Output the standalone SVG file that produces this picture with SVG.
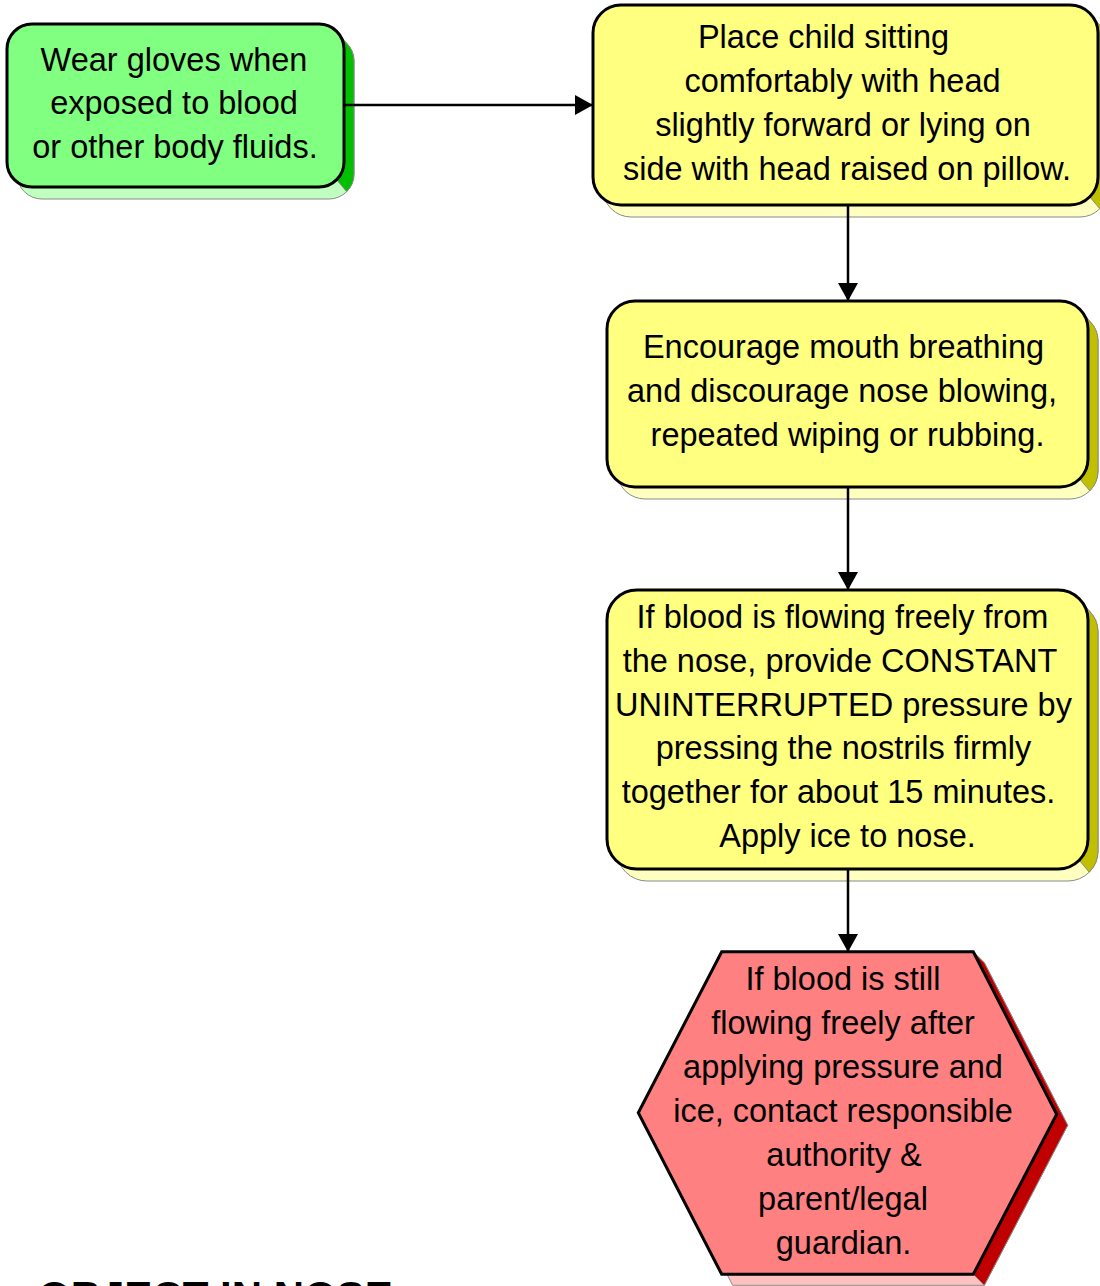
<svg xmlns="http://www.w3.org/2000/svg" width="1100" height="1286" viewBox="0 0 1100 1286">
  <style>
    .label { font-family: "Liberation Sans", Arial, sans-serif; font-size: 32.5px; fill: #000; text-anchor: middle; }
    .title { font-family: "Liberation Sans", Arial, sans-serif; font-size: 42px; font-weight: bold; fill: #000; }
    .face { stroke: #8a8a8a; stroke-width: 1; }
    .body { stroke: #000; stroke-width: 3; }
    .green .body { fill: #80ff80; }
    .green .bottom { fill: #c0ffc0; }
    .green .side { fill: #00c000; }
    .yellow .body { fill: #ffff80; }
    .yellow .bottom { fill: #ffffc0; }
    .yellow .side { fill: #c0c000; }
    .red .body { fill: #ff8080; }
    .red .bottom { fill: #ffc0c0; }
    .red .side { fill: #c00000; }
    .conn { stroke: #000; stroke-width: 2.5; fill: none; }
  </style>
  <defs>
    <marker id="arrowhead" markerWidth="20" markerHeight="20" refX="18" refY="10" orient="auto" markerUnits="userSpaceOnUse">
      <path d="M0,0 L18,10 L0,20 Z" fill="#000"/>
    </marker>
  </defs>

  <rect width="1100" height="1286" fill="#fff"/>

  <!-- Gloves step -->
  <g id="node-gloves" class="green">
    <rect class="face bottom" x="17" y="36" width="337" height="163" rx="25"/>
    <path class="face side" d="M336.68,31.32 l10,12 A25,25 0 0 1 354,61 L354,174 A25,25 0 0 1 346.68,191.68 l-10,-12 A25,25 0 0 0 344,162 L344,49 A25,25 0 0 0 336.68,31.32 Z"/>
    <rect class="body" x="7" y="24" width="337" height="163" rx="25"/>
    <text class="label" x="174" y="71">Wear gloves when</text>
    <text class="label" x="174" y="114">exposed to blood</text>
    <text class="label" x="175" y="158">or other body fluids.</text>
  </g>

  <!-- Positioning step -->
  <g id="node-position" class="yellow">
    <rect class="face bottom" x="603" y="17" width="505" height="200" rx="28"/>
    <path class="face side" d="M1089.8,13.2 l10,12 A28,28 0 0 1 1108,45 L1108,189 A28,28 0 0 1 1099.8,208.8 l-10,-12 A28,28 0 0 0 1098,177 L1098,33 A28,28 0 0 0 1089.8,13.2 Z"/>
    <rect class="body" x="593" y="5" width="505" height="200" rx="28"/>
    <text class="label" x="823.5" y="48">Place child sitting</text>
    <text class="label" x="842.5" y="92">comfortably with head</text>
    <text class="label" x="843" y="136">slightly forward or lying on</text>
    <text class="label" x="847" y="180">side with head raised on pillow.</text>
  </g>

  <!-- Breathing step -->
  <g id="node-breathing" class="yellow">
    <rect class="face bottom" x="617" y="313" width="481" height="186" rx="28"/>
    <path class="face side" d="M1079.8,309.2 l10,12 A28,28 0 0 1 1098,341 L1098,471 A28,28 0 0 1 1089.8,490.8 l-10,-12 A28,28 0 0 0 1088,459 L1088,329 A28,28 0 0 0 1079.8,309.2 Z"/>
    <rect class="body" x="607" y="301" width="481" height="186" rx="28"/>
    <text class="label" x="843.5" y="358">Encourage mouth breathing</text>
    <text class="label" x="842" y="402">and discourage nose blowing,</text>
    <text class="label" x="847.5" y="446">repeated wiping or rubbing.</text>
  </g>

  <!-- Pressure step -->
  <g id="node-pressure" class="yellow">
    <rect class="face bottom" x="617" y="602" width="481" height="279" rx="30"/>
    <path class="face side" d="M1079.21,598.79 l10,12 A30,30 0 0 1 1098,632 L1098,851 A30,30 0 0 1 1089.21,872.21 l-10,-12 A30,30 0 0 0 1088,839 L1088,620 A30,30 0 0 0 1079.21,598.79 Z"/>
    <rect class="body" x="607" y="590" width="481" height="279" rx="30"/>
    <text class="label" x="842.5" y="628">If blood is flowing freely from</text>
    <text class="label" x="840" y="672">the nose, provide CONSTANT</text>
    <text class="label" x="843.5" y="716">UNINTERRUPTED pressure by</text>
    <text class="label" x="843.5" y="759">pressing the nostrils firmly</text>
    <text class="label" x="838.5" y="803">together for about 15 minutes.</text>
    <text class="label" x="847.5" y="847">Apply ice to nose.</text>
  </g>

  <!-- Escalation step -->
  <g id="node-contact" class="red">
    <polygon class="face bottom" points="732.7,962.7 984.3,962.7 1067.7,1125.3 984.3,1285.3 732.7,1285.3 649.3,1123.7"/>
    <polygon class="face side" points="973.3,951.7 984.3,962.7 1067.7,1125.3 984.3,1285.3 973.3,1274.3 1056.7,1114.3"/>
    <polygon class="body" stroke-linejoin="miter" points="721.7,951.7 973.3,951.7 1056.7,1114.3 973.3,1274.3 721.7,1274.3 638.3,1112.7"/>
    <text class="label" x="843" y="990">If blood is still</text>
    <text class="label" x="843" y="1034">flowing freely after</text>
    <text class="label" x="843" y="1078">applying pressure and</text>
    <text class="label" x="843" y="1122">ice, contact responsible</text>
    <text class="label" x="844" y="1166">authority &amp;</text>
    <text class="label" x="843" y="1210">parent/legal</text>
    <text class="label" x="843.5" y="1254">guardian.</text>
  </g>

  <!-- Flow connectors -->
  <g id="connectors">
    <line class="conn" x1="344" y1="105" x2="593" y2="105" marker-end="url(#arrowhead)"/>
    <line class="conn" x1="848" y1="205" x2="848" y2="301" marker-end="url(#arrowhead)"/>
    <line class="conn" x1="848" y1="487" x2="848" y2="590" marker-end="url(#arrowhead)"/>
    <line class="conn" x1="848" y1="869" x2="848" y2="952" marker-end="url(#arrowhead)"/>
  </g>

  <!-- Next section heading, running off the lower edge -->
  <text id="heading-object" class="title" x="38" y="1311">OBJECT IN NOSE</text>
</svg>
